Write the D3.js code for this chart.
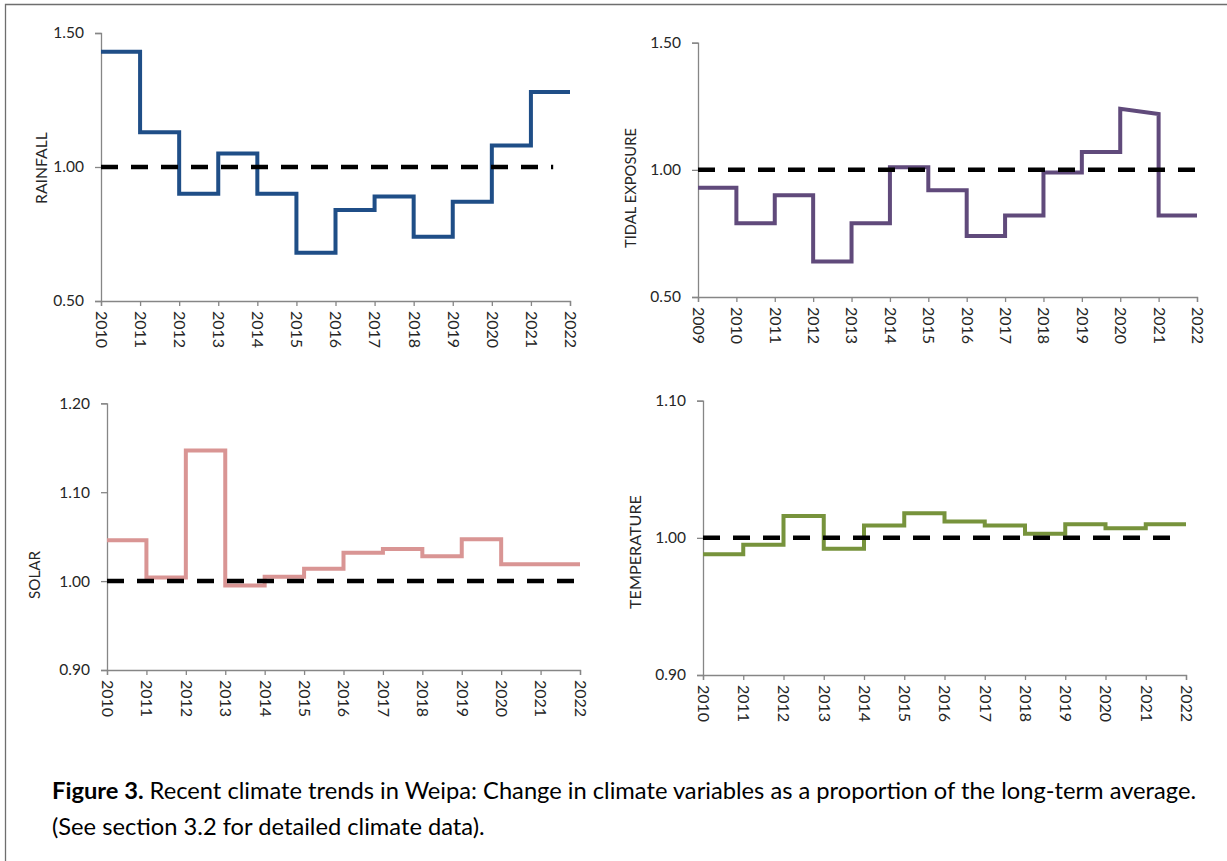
<!DOCTYPE html>
<html>
<head>
<meta charset="utf-8">
<script src="https://cdn.jsdelivr.net/npm/d3@7"></script>
<style>
  body { margin: 0; background: #fff; }
  svg { display: block; font-family: Lato, "Open Sans", sans-serif; }
  .axis path, .axis line { stroke: #868686; stroke-width: 1.3; }
  .axis text { fill: #262626; }
  .ytitle { fill: #262626; }
</style>
</head>
<body>
<svg id="fig" width="1227" height="861"></svg>
<script>
// each value holds from its year to the next year (step chart)
var rainYears = [2010, 2011, 2012, 2013, 2014, 2015, 2016, 2017, 2018, 2019, 2020, 2021];
var rainfall  = [1.43, 1.13, 0.90, 1.05, 0.90, 0.68, 0.84, 0.89, 0.74, 0.87, 1.08, 1.28];

var tideYears  = [2009, 2010, 2011, 2012, 2013, 2014, 2015, 2016, 2017, 2018, 2019, 2020, 2021];
var tidalStart = [0.93, 0.79, 0.90, 0.64, 0.79, 1.01, 0.92, 0.74, 0.82, 0.99, 1.07, 1.24, 0.82];
var tidalEnd   = [0.93, 0.79, 0.90, 0.64, 0.79, 1.01, 0.92, 0.74, 0.82, 0.99, 1.07, 1.22, 0.82];

var solarYears = [2010, 2011, 2012, 2013, 2014, 2015, 2016, 2017, 2018, 2019, 2020, 2021];
var solar      = [1.046, 1.004, 1.147, 0.995, 1.005, 1.014, 1.032, 1.036, 1.028, 1.047, 1.019, 1.019];

var tempYears   = [2010, 2011, 2012, 2013, 2014, 2015, 2016, 2017, 2018, 2019, 2020, 2021];
var temperature = [0.988, 0.995, 1.016, 0.992, 1.009, 1.018, 1.012, 1.009, 1.003, 1.010, 1.007, 1.010];

// long-term average line: value 1.00 from the first year to these x values
var avgEnd = { rain: 2021.57, tide: 2022, solar: 2022, temp: 2021.75 };

var rainTicks  = [0.50, 1.00, 1.50];
var tideTicks  = [0.50, 1.00, 1.50];
var solarTicks = [0.90, 1.00, 1.10, 1.20];
var tempTicks  = [0.90, 1.00, 1.10];

var captionBold = "Figure 3.";
var captionLine1 = " Recent climate trends in Weipa: Change in climate variables as a proportion of the long-term average.";
var captionLine2 = "(See section 3.2 for detailed climate data).";

var panels = [
  { title: "RAINFALL", years: rainYears, start: rainfall, end: rainfall, color: "#1f4e87",
    ticks: rainTicks, avg: avgEnd.rain,
    x0: 101, x1: 570, y0: 301, y1: 33, tx: 41, ty: 168, tw: 72 },
  { title: "TIDAL EXPOSURE", years: tideYears, start: tidalStart, end: tidalEnd, color: "#604a7b",
    ticks: tideTicks, avg: avgEnd.tide,
    x0: 698, x1: 1197, y0: 297, y1: 42.7, tx: 631, ty: 188, tw: 120 },
  { title: "SOLAR", years: solarYears, start: solar, end: solar, color: "#d99594",
    ticks: solarTicks, avg: avgEnd.solar,
    x0: 107, x1: 580, y0: 670, y1: 403.3, tx: 35, ty: 575, tw: 48 },
  { title: "TEMPERATURE", years: tempYears, start: temperature, end: temperature, color: "#77933c",
    ticks: tempTicks, avg: avgEnd.temp,
    x0: 703, x1: 1186, y0: 675, y1: 400.7, tx: 635, ty: 552, tw: 114 }
];

var svg = d3.select("#fig");

// frame (top and left edges only, the rest is cropped)
svg.append("path")
  .attr("d", "M5.5,861 V4.5 H1227")
  .attr("fill", "none")
  .attr("stroke", "#6e6e6e")
  .attr("stroke-width", 1.3);

function fitText(sel, width) {
  var fs = parseFloat(sel.style("font-size"));
  var w = sel.node().getComputedTextLength();
  sel.style("font-size", (fs * width / w) + "px");
}

panels.forEach(function(p) {
  var first = p.years[0], last = p.years[p.years.length - 1] + 1;
  var x = d3.scaleLinear().domain([first, last]).range([p.x0, p.x1]);
  var y = d3.scaleLinear().domain([p.ticks[0], p.ticks[p.ticks.length - 1]]).range([p.y0, p.y1]);

  var g = svg.append("g");

  // y axis
  g.append("g")
    .attr("class", "axis")
    .attr("transform", "translate(" + p.x0 + ",0)")
    .call(d3.axisLeft(y).tickValues(p.ticks).tickFormat(d3.format(".2f")).tickSizeOuter(0).tickSize(6).tickPadding(11))
    .call(a => a.selectAll("text").style("font-size", "15.5px").style("font-family", "Lato, sans-serif"));

  // x axis with rotated year labels
  var yrs = p.years.concat([last]);
  g.append("g")
    .attr("class", "axis")
    .attr("transform", "translate(0," + p.y0 + ")")
    .call(d3.axisBottom(x).tickValues(yrs).tickFormat(d3.format("d")).tickSizeOuter(0).tickSize(5))
    .call(a => a.selectAll("text")
      .style("font-size", "16px").style("font-family", "Lato, sans-serif")
      .attr("text-anchor", "start")
      .attr("y", 0).attr("dy", "0.35em")
      .attr("transform", "translate(0,10) rotate(90)"));

  // axis title
  var t = g.append("text")
    .attr("class", "ytitle")
    .attr("transform", "translate(" + p.tx + "," + p.ty + ") rotate(-90)")
    .attr("text-anchor", "middle")
    .attr("dy", "0.35em")
    .style("font-size", "15px")
    .text(p.title);
  fitText(t, p.tw);

  // step series
  var pts = [];
  p.years.forEach(function(yr, i) {
    pts.push([yr, p.start[i]]);
    pts.push([yr + 1, p.end[i]]);
  });
  var line = d3.line().x(d => x(d[0])).y(d => y(d[1]));
  g.append("path")
    .datum(pts)
    .attr("d", line)
    .attr("fill", "none")
    .attr("stroke", p.color)
    .attr("stroke-width", 4)
    .attr("stroke-linejoin", "miter");

  // long-term average
  g.append("path")
    .datum([[first, 1], [p.avg, 1]])
    .attr("d", line)
    .attr("fill", "none")
    .attr("stroke", "#000")
    .attr("stroke-width", 4.5)
    .attr("stroke-dasharray", "17,13");
});

// caption
var c1 = svg.append("text")
  .attr("x", 52).attr("y", 799)
  .style("font-size", "20px").style("fill", "#000");
c1.append("tspan").style("font-weight", "bold").text(captionBold);
c1.append("tspan").text(captionLine1);
fitText(c1, 1145);

var c2 = svg.append("text")
  .attr("x", 52).attr("y", 835)
  .style("font-size", c1.style("font-size")).style("fill", "#000")
  .text(captionLine2);
</script>
</body>
</html>
